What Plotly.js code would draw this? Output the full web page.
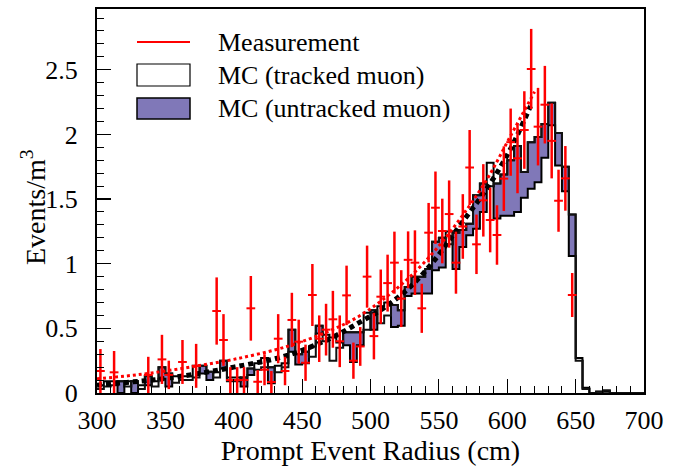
<!DOCTYPE html>
<html>
<head>
<meta charset="utf-8">
<script src="https://cdn.plot.ly/plotly-3.0.1.min.js"></script>
<style>html,body{margin:0;padding:0;background:#fff;}#plot{width:678px;height:466px;}</style>
</head>
<body>
<div id="plot"></div>
<script>
// Bin lower edges (cm), 5 cm bins
const binLow = [300,305,310,315,320,325,330,335,340,345,350,355,360,365,370,375,380,385,390,395,
400,405,410,415,420,425,430,435,440,445,450,455,460,465,470,475,480,485,490,495,
500,505,510,515,520,525,530,535,540,545,550,555,560,565,570,575,580,585,590,595,
600,605,610,615,620,625,630,635,640,645,650,655,660,665,670,675,680,685,690,695];
const binHigh = 700;

// MC (tracked muon)
const tracked = [0.06,0.09,0.09,0.00,0.09,0.00,0.06,0.06,0.09,0.11,
0.05,0.13,0.13,0.13,0.21,0.15,0.10,0.16,0.19,0.12,
0.12,0.05,0.14,0.23,0.27,0.075,0.21,0.23,0.32,0.22,
0.23,0.36,0.46,0.45,0.43,0.39,0.37,0.24,0.37,0.62,
0.49,0.67,0.70,0.51,0.52,0.75,0.77,0.77,0.77,0.95,
0.97,1.25,0.96,1.13,1.22,1.27,1.40,1.78,1.35,1.37,
1.37,1.40,1.51,1.58,1.63,1.82,2.07,1.76,1.56,1.06,
0.27,0.04,0,0.01,0.01,0,0,0,0,0];

// MC (untracked muon)
const untracked = [0.03,0.05,0.06,0.09,0.05,0.09,0.03,0.13,0.05,0.20,
0.15,0.08,0.10,0.10,0.12,0.21,0.165,0.12,0.25,0.09,
0.09,0.12,0.19,0.18,0.20,0.20,0.16,0.20,0.49,0.30,
0.32,0.28,0.52,0.40,0.25,0.35,0.47,0.47,0.47,0.49,
0.64,0.54,0.60,0.68,0.64,0.82,0.90,0.90,0.96,1.17,
1.20,1.15,1.24,1.26,1.31,1.53,1.62,1.60,1.62,1.69,
1.80,1.91,1.71,1.94,1.98,2.08,2.245,2.01,1.75,1.38,
0.25,0.03,0,0.01,0.02,0,0,0,0,0];

// Measurement (bin centres, values, errors)
const measX = [302.5,312.5,337.5,347.5,352.5,362.5,372.5,387.5,392.5,397.5,
402.5,407.5,412.5,417.5,422.5,427.5,432.5,437.5,442.5,447.5,
452.5,457.5,462.5,467.5,472.5,477.5,482.5,487.5,492.5,497.5,
502.5,507.5,512.5,517.5,522.5,527.5,532.5,537.5,542.5,547.5,
552.5,557.5,562.5,567.5,572.5,577.5,582.5,587.5,592.5,597.5,
602.5,607.5,612.5,617.5,622.5,627.5,632.5,637.5,642.5,647.5];
const measY = [0.17,0.16,0.14,0.26,0.14,0.24,0.21,0.634,0.41,0.10,
0.10,0.10,0.655,0.087,0.18,0.085,0.42,0.17,0.565,0.397,
0.234,0.758,0.42,0.49,0.57,0.40,0.755,0.25,0.36,0.90,
0.44,0.745,0.85,1.008,0.73,1.03,1.008,0.655,1.24,1.433,
1.253,1.384,1.008,1.288,1.744,1.15,1.49,1.338,1.222,1.658,
1.94,1.815,2.034,2.506,2.06,2.23,1.95,1.487,1.66,0.758];
const measErr = [0.17,0.165,0.14,0.19,0.11,0.17,0.17,0.26,0.20,0.10,
0.10,0.10,0.25,0.09,0.12,0.085,0.19,0.11,0.21,0.17,
0.14,0.24,0.18,0.20,0.22,0.20,0.23,0.14,0.15,0.24,
0.18,0.21,0.22,0.24,0.22,0.22,0.25,0.19,0.23,0.28,
0.25,0.26,0.24,0.25,0.29,0.23,0.28,0.25,0.23,0.25,
0.26,0.27,0.30,0.31,0.30,0.30,0.29,0.24,0.25,0.17];

// Fit curves
const fitMeasX = [300,320,340,368,400,439,470,491,510,529,547,565,585,602,620];
const fitMeasY = [0.11,0.13,0.155,0.20,0.26,0.36,0.48,0.59,0.73,0.90,1.10,1.34,1.65,1.98,2.33];
const fitMCX = [300,320,340,368,400,439,470,491,510,529,547,565,585,602,617];
const fitMCY = [0.06,0.08,0.10,0.14,0.20,0.29,0.42,0.54,0.66,0.82,1.03,1.29,1.58,1.88,2.22];

const purple = '#8078b8';
const serif = 'Liberation Serif';

const stepX = binLow.concat([binHigh]);
const stepU = untracked.concat([untracked[untracked.length-1]]);
const stepT = tracked.concat([tracked[tracked.length-1]]);

const traces = [
  {x: stepX, y: stepU, type: 'scatter', mode: 'lines', line: {shape: 'hv', color: '#111', width: 2},
   fill: 'tozeroy', fillcolor: purple, showlegend: false, hoverinfo: 'skip'},
  {x: stepX, y: stepT, type: 'scatter', mode: 'lines', line: {shape: 'hv', color: '#000', width: 2},
   fill: 'tozeroy', fillcolor: '#ffffff', showlegend: false, hoverinfo: 'skip'},
  {x: stepX, y: stepU, type: 'scatter', mode: 'lines', line: {shape: 'hv', color: '#111', width: 2},
   showlegend: false, hoverinfo: 'skip'},
  {x: fitMCX, y: fitMCY, type: 'scatter', mode: 'lines',
   line: {shape: 'spline', smoothing: 1, color: '#000', width: 5, dash: '5px,4px'}, showlegend: false},
  {x: fitMeasX, y: fitMeasY, type: 'scatter', mode: 'lines',
   line: {shape: 'spline', smoothing: 1, color: '#ff0000', width: 3, dash: '3px,3px'}, showlegend: false},
  {x: measX, y: measY, type: 'scatter', mode: 'markers',
   marker: {size: 1, color: '#ff0000'},
   error_y: {type: 'data', array: measErr, visible: true, color: '#ff0000', thickness: 2.5, width: 0},
   error_x: {type: 'constant', value: 3.2, visible: true, color: '#ff0000', thickness: 2, width: 0},
   showlegend: false}
];

function px2x(px){ return (px-97)/547; }
function py2y(py){ return (393-py)/384; }

const layout = {
  width: 678, height: 466,
  margin: {l: 97, r: 34, t: 9, b: 73, pad: 0},
  paper_bgcolor: '#fff', plot_bgcolor: '#fff',
  showlegend: false,
  font: {family: serif, size: 26, color: '#000'},
  xaxis: {
    range: [300, 700], dtick: 50, tick0: 300,
    ticks: 'inside', ticklen: 14, tickwidth: 1.2, tickcolor: '#000',
    minor: {ticks: 'inside', ticklen: 7, dtick: 10, tickwidth: 1, tickcolor: '#000'},
    showline: true, linecolor: '#000', linewidth: 2, mirror: true,
    showgrid: false, zeroline: false, automargin: false,
    tickfont: {family: serif, size: 26, color: '#000'},
    ticklabelstandoff: 3,
    title: {text: 'Prompt Event Radius (cm)', font: {family: serif, size: 28, color: '#000'}, standoff: 8}
  },
  yaxis: {
    range: [0, 2.97], dtick: 0.5, tick0: 0,
    ticks: 'inside', ticklen: 14, tickwidth: 1.2, tickcolor: '#000',
    minor: {ticks: 'inside', ticklen: 7, dtick: 0.1, tickwidth: 1, tickcolor: '#000'},
    showline: true, linecolor: '#000', linewidth: 2, mirror: true,
    showgrid: false, zeroline: false, automargin: false,
    tickfont: {family: serif, size: 26, color: '#000'},
    ticklabelstandoff: 12
  },
  shapes: [
    {type: 'line', xref: 'paper', yref: 'paper', x0: px2x(137), x1: px2x(190), y0: py2y(42), y1: py2y(42),
     line: {color: '#ff0000', width: 2}},
    {type: 'rect', xref: 'paper', yref: 'paper', x0: px2x(137), x1: px2x(190), y0: py2y(86), y1: py2y(64),
     line: {color: '#000', width: 1.2}, fillcolor: '#fff'},
    {type: 'rect', xref: 'paper', yref: 'paper', x0: px2x(137), x1: px2x(190), y0: py2y(119), y1: py2y(98),
     line: {color: '#000', width: 1.5}, fillcolor: purple}
  ],
  annotations: [
    {xref: 'paper', yref: 'paper', x: px2x(216), y: py2y(42), xanchor: 'left', yanchor: 'middle',
     text: 'Measurement', showarrow: false, font: {family: serif, size: 26, color: '#000'}},
    {xref: 'paper', yref: 'paper', x: px2x(216), y: py2y(75), xanchor: 'left', yanchor: 'middle',
     text: 'MC (tracked muon)', showarrow: false, font: {family: serif, size: 26, color: '#000'}},
    {xref: 'paper', yref: 'paper', x: px2x(216), y: py2y(109), xanchor: 'left', yanchor: 'middle',
     text: 'MC (untracked muon)', showarrow: false, font: {family: serif, size: 26, color: '#000'}},
    {xref: 'paper', yref: 'paper', x: px2x(33), y: py2y(207), xanchor: 'center', yanchor: 'middle',
     textangle: -90, text: 'Events/m<sup>3</sup>', showarrow: false, font: {family: serif, size: 28, color: '#000'}}
  ]
};

Plotly.newPlot('plot', traces, layout, {displayModeBar: false, staticPlot: true});
</script>
</body>
</html>
